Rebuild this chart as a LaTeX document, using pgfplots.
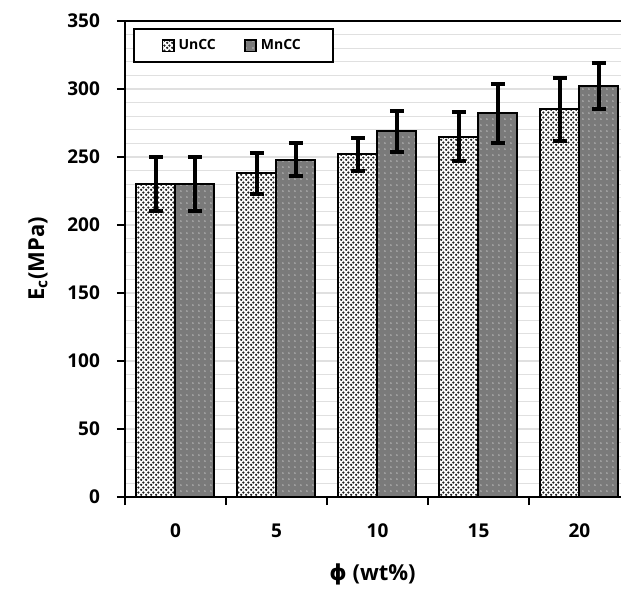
\documentclass[border=0pt]{standalone}
\usepackage{pgfplots}
\pgfplotsset{compat=1.18}
\usepackage{fontspec}
\setmainfont{Open Sans}
\newfontfamily\dejavu{DejaVu Sans}
\usetikzlibrary{patterns}

% denser dot pattern for the UnCC bars
\pgfdeclarepatternformonly{densedots}{\pgfpointorigin}{\pgfpoint{2.6pt}{2.6pt}}{\pgfpoint{2.6pt}{2.6pt}}{
  \pgfpathcircle{\pgfpoint{0.65pt}{0.65pt}}{0.72pt}
  \pgfpathcircle{\pgfpoint{1.95pt}{1.95pt}}{0.72pt}
  \pgfusepath{fill}
}
\pgfdeclarepatternformonly{sparsedots}{\pgfpointorigin}{\pgfpoint{3.2pt}{3.2pt}}{\pgfpoint{3.2pt}{3.2pt}}{
  \pgfpathcircle{\pgfpoint{1.6pt}{1.6pt}}{0.45pt}
  \pgfusepath{fill}
}

\pgfplotstableread{
x  un   unerr  mn   mnerr
0  230  20     230  20
1  238  15     248  12
2  252  12     269  15
3  265  18     282  22
4  285  23     302  17
}\ecdata

\begin{document}
\begin{tikzpicture}
\begin{axis}[
  scale only axis, width=252.5pt, height=238pt,
  ybar=0pt, bar width=19.5pt,
  xmin=-0.5, xmax=4.5, ymin=0, ymax=350,
  xtick={0,1,2,3,4}, xticklabels={0,5,10,15,20},
  minor xtick={-0.5,0.5,1.5,2.5,3.5},
  ytick={0,50,...,350}, minor ytick={10,20,...,340},
  xtick pos=lower, ytick pos=left,
  major x tick style={draw=none},
  minor x tick style={line width=1pt, black},
  minor y tick style={draw=none},
  major y tick style={line width=1pt, black},
  tick align=outside, major tick length=4pt, minor tick length=4pt,
  ymajorgrids, yminorgrids,
  major grid style={draw=black!12, line width=0.6pt},
  minor grid style={draw=black!12, line width=0.6pt},
  axis line style={line width=1.1pt},
  tick label style={font=\bfseries\fontsize{9.5}{11}\selectfont},
  /pgf/number format/assume math mode=true,
  xticklabel style={yshift=-6pt},
  yticklabel style={xshift=-5pt},
  xlabel={{\dejavu ϕ} (wt\%)}, ylabel={E\textsubscript{c}(MPa)},
  label style={font=\bfseries\fontsize{11}{13}\selectfont},
  xlabel style={yshift=-6pt, xshift=-2.5pt},
  ylabel style={yshift=3pt},
  legend columns=2,
  legend style={at={(0.015,0.985)}, anchor=north west, draw=black, line width=1pt,
    font=\bfseries\fontsize{7}{8}\selectfont, inner xsep=14pt, inner ysep=3pt,
    /tikz/every even column/.append style={column sep=12pt}},
  legend image code/.code={\draw[#1, line width=0.8pt] (0cm,-0.1cm) rectangle (0.2cm,0.1cm);},
  error bars/y dir=both, error bars/y explicit,
  error bars/error bar style={line width=2pt, black},
  error bars/error mark options={rotate=90, mark size=3.5pt, line width=2pt, black},
]
\addplot[draw=black, line width=1pt, fill=white, postaction={pattern=densedots, pattern color=black!85}]
  table[x=x, y=un, y error=unerr] {\ecdata};
\addplot[draw=black, line width=1pt, fill=black!52, postaction={pattern=sparsedots, pattern color=black!25}]
  table[x=x, y=mn, y error=mnerr] {\ecdata};
\legend{UnCC, MnCC}
\coordinate (bl) at (rel axis cs:0,0);
\end{axis}
\pgfresetboundingbox
\path ([shift={(-62.5pt,-46pt)}]bl) rectangle ([shift={(248pt,248.5pt)}]bl);
\end{tikzpicture}
\end{document}
